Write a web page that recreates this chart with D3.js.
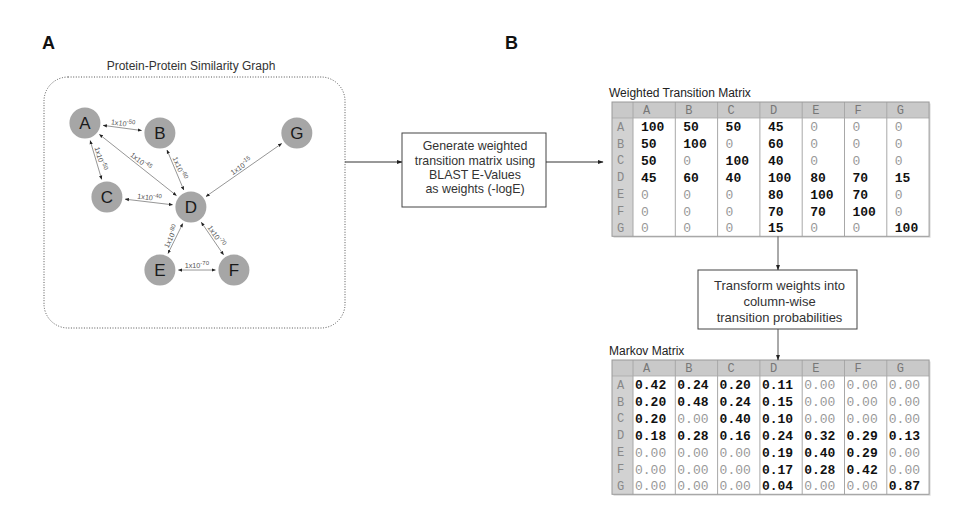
<!DOCTYPE html>
<html><head><meta charset="utf-8">
<script src="https://cdn.jsdelivr.net/npm/d3@7"></script>
<style>
body{margin:0;background:#fff;}
</style></head>
<body><svg id="c" width="975" height="517" font-family="Liberation Sans, Arial, sans-serif"></svg>
<script>
// ---------- data ----------
const nodeIds = ["A","B","C","D","E","F","G"];
// graph layout in abstract units (0..100) inside the dotted frame
const nodeGX = [13.6, 38.5, 20.9, 48.8, 38.5, 63.1, 84.0];
const nodeGY = [18.3, 22.3, 47.8, 51.8, 76.9, 76.9, 22.3];
const edgeSrc = ["A","A","A","B","G","C","D","D","E"];
const edgeTgt = ["B","C","D","D","D","D","E","F","F"];
const edgeExp = [-50,-50,-45,-60,-15,-40,-80,-70,-70];
const colLabels = ["A","B","C","D","E","F","G"];
const rowLabels = ["A","B","C","D","E","F","G"];
const weights = [
  [100,50,50,45,0,0,0],
  [50,100,0,60,0,0,0],
  [50,0,100,40,0,0,0],
  [45,60,40,100,80,70,15],
  [0,0,0,80,100,70,0],
  [0,0,0,70,70,100,0],
  [0,0,0,15,0,0,100]
];
const markov = [
  ["0.42","0.24","0.20","0.11","0.00","0.00","0.00"],
  ["0.20","0.48","0.24","0.15","0.00","0.00","0.00"],
  ["0.20","0.00","0.40","0.10","0.00","0.00","0.00"],
  ["0.18","0.28","0.16","0.24","0.32","0.29","0.13"],
  ["0.00","0.00","0.00","0.19","0.40","0.29","0.00"],
  ["0.00","0.00","0.00","0.17","0.28","0.42","0.00"],
  ["0.00","0.00","0.00","0.04","0.00","0.00","0.87"]
];
const boxText1 = ["Generate weighted","transition matrix using","BLAST E-Values","as weights (-logE)"];
const boxText2 = ["Transform weights into","column-wise","transition probabilities"];

// ---------- drawing ----------
const MONO = "Liberation Mono, Courier New, monospace";
const svg = d3.select("#c");
const defs = svg.append("defs");
defs.append("marker").attr("id","ah").attr("viewBox","0 0 10 10").attr("refX",9).attr("refY",5)
  .attr("markerWidth",6).attr("markerHeight",6).attr("orient","auto-start-reverse")
  .append("path").attr("d","M0,1.5L10,5L0,8.5z").attr("fill","#222");
defs.append("marker").attr("id","sm").attr("viewBox","0 0 10 10").attr("refX",9).attr("refY",5)
  .attr("markerWidth",4.5).attr("markerHeight",4.5).attr("orient","auto-start-reverse")
  .append("path").attr("d","M0,1L10,5L0,9z").attr("fill","#222");

// panel letters
svg.append("text").attr("x",42).attr("y",49)
  .attr("font-weight","bold").attr("font-size",18).attr("fill","#111").text("A");
svg.append("text").attr("x",505).attr("y",49)
  .attr("font-weight","bold").attr("font-size",18).attr("fill","#111").text("B");

// ----- Panel A: graph -----
svg.append("text").attr("x",191).attr("y",70).attr("text-anchor","middle")
  .attr("font-size",12).attr("fill","#333").text("Protein-Protein Similarity Graph");
svg.append("rect").attr("x",44).attr("y",77).attr("width",301).attr("height",251).attr("rx",24)
  .attr("fill","none").attr("stroke","#555").attr("stroke-width",1).attr("stroke-dasharray","1,1.6");

const gx = d3.scaleLinear().domain([0,100]).range([44,345]);
const gy = d3.scaleLinear().domain([0,100]).range([77,328]);
const R = 15.5;
const pos = {};
nodeIds.forEach((id,i)=>{pos[id]={x:gx(nodeGX[i]),y:gy(nodeGY[i])};});

const edges = edgeSrc.map((s,i)=>({s,t:edgeTgt[i],e:edgeExp[i]}));
const eg = svg.append("g");
edges.forEach(d=>{
  const a=pos[d.s], b=pos[d.t];
  const dx=b.x-a.x, dy=b.y-a.y, L=Math.hypot(dx,dy), ux=dx/L, uy=dy/L;
  const gap=R+3;
  const x1=a.x+ux*gap, y1=a.y+uy*gap, x2=b.x-ux*gap, y2=b.y-uy*gap;
  eg.append("line").attr("x1",x1).attr("y1",y1).attr("x2",x2).attr("y2",y2)
    .attr("stroke","#8a8a8a").attr("stroke-width",0.9)
    .attr("marker-start","url(#sm)").attr("marker-end","url(#sm)");
  let ang=Math.atan2(dy,dx)*180/Math.PI;
  if(ang>90) ang-=180; if(ang<=-90) ang+=180;
  const mx=(a.x+b.x)/2, my=(a.y+b.y)/2;
  const t=eg.append("text").attr("transform",`translate(${mx},${my}) rotate(${ang}) translate(0,-2)`)
    .attr("text-anchor","middle").attr("font-size",7.2).attr("fill","#555");
  t.append("tspan").text("1x10");
  t.append("tspan").attr("dy",-3.2).attr("font-size",6).text(d.e);
});

const ng = svg.append("g").selectAll("g").data(nodeIds).join("g")
  .attr("transform",d=>`translate(${pos[d].x},${pos[d].y})`);
ng.append("circle").attr("r",R).attr("fill","#a6a6a6");
ng.append("text").attr("text-anchor","middle").attr("dy","0.36em").attr("font-size",17)
  .attr("fill","#1a1a1a").text(d=>d);

// ----- middle box -----
const b1 = {x:402,y:133,w:144,h:74};
svg.append("line").attr("x1",345).attr("y1",162).attr("x2",b1.x).attr("y2",162)
  .attr("stroke","#333").attr("stroke-width",1).attr("marker-end","url(#ah)");
svg.append("rect").attr("x",b1.x).attr("y",b1.y).attr("width",b1.w).attr("height",b1.h)
  .attr("fill","#fff").attr("stroke","#444").attr("stroke-width",1);
boxText1.forEach((s,i)=>svg.append("text").attr("x",b1.x+b1.w/2+1).attr("y",b1.y+12.8+i*14.4)
  .attr("text-anchor","middle").attr("dy","0.35em").attr("font-size",12.4).attr("fill","#333").text(s));
svg.append("line").attr("x1",b1.x+b1.w).attr("y1",162).attr("x2",603).attr("y2",162)
  .attr("stroke","#333").attr("stroke-width",1).attr("marker-end","url(#ah)");

// ----- tables -----
function drawTable(top, title, values, isZero, fmt, valOffset){
  const left=612, rhW=21, colW=42.3, hH=16, rH=16.9;
  const x = d3.scaleBand().domain(colLabels).range([left+rhW, left+rhW+colW*colLabels.length]);
  const y = d3.scaleBand().domain(rowLabels).range([top+hH, top+hH+rH*rowLabels.length]);
  const right = x.range()[1], bottom = y.range()[1];
  svg.append("text").attr("x",609).attr("y",top-5).attr("font-size",12).attr("fill","#222").text(title);
  const g=svg.append("g");
  g.append("rect").attr("x",left+1.5).attr("y",top+1.5).attr("width",right-left).attr("height",bottom-top)
    .attr("fill","#ddd");
  g.append("rect").attr("x",left).attr("y",top).attr("width",right-left).attr("height",bottom-top)
    .attr("fill","#fff");
  g.append("rect").attr("x",left).attr("y",top).attr("width",right-left).attr("height",hH).attr("fill","#c9c9c9");
  g.append("rect").attr("x",left).attr("y",top+hH).attr("width",rhW).attr("height",bottom-top-hH).attr("fill","#d2d2d2");
  colLabels.forEach(c=>{
    g.append("line").attr("x1",x(c)).attr("x2",x(c)).attr("y1",top).attr("y2",bottom)
      .attr("stroke","#a8a8a8").attr("stroke-width",1);
  });
  g.append("line").attr("x1",left).attr("x2",right).attr("y1",top+hH).attr("y2",top+hH)
    .attr("stroke","#aaa").attr("stroke-width",0.8);
  g.append("rect").attr("x",left).attr("y",top).attr("width",right-left).attr("height",bottom-top)
    .attr("fill","none").attr("stroke","#999").attr("stroke-width",1);
  g.selectAll(".ch").data(colLabels).join("text").attr("x",c=>x(c)+10).attr("y",top+hH/2)
    .attr("dy","0.35em").attr("font-family",MONO).attr("font-size",12)
    .attr("fill","#777").text(c=>c);
  g.selectAll(".rh").data(rowLabels).join("text").attr("x",left+5).attr("y",r=>y(r)+rH/2)
    .attr("dy","0.35em").attr("font-family",MONO).attr("font-size",12)
    .attr("fill","#888").text(r=>r);
  values.forEach((row,ri)=>{
    row.forEach((v,ci)=>{
      const z=isZero(v);
      g.append("text").attr("x",x(colLabels[ci])+valOffset).attr("y",y(rowLabels[ri])+rH/2)
        .attr("dy","0.35em").attr("font-family",MONO).attr("font-size",13)
        .attr("font-weight",z?"normal":"bold").attr("fill",z?"#999":"#111").text(fmt(v));
    });
  });
  return {x,y,left,right,top,bottom};
}
const t1 = drawTable(102,"Weighted Transition Matrix",weights,v=>v===0,v=>String(v),8);
const t2 = drawTable(360,"Markov Matrix",markov,v=>+v===0,v=>v,2);

// arrows and transform box
const cx = 778;
const b2 = {x:698,y:270,w:159,h:59};
svg.append("line").attr("x1",cx).attr("y1",t1.bottom).attr("x2",cx).attr("y2",b2.y)
  .attr("stroke","#555").attr("stroke-width",1).attr("marker-end","url(#ah)");
svg.append("rect").attr("x",b2.x).attr("y",b2.y).attr("width",b2.w).attr("height",b2.h)
  .attr("fill","#fff").attr("stroke","#444").attr("stroke-width",1);
boxText2.forEach((s,i)=>svg.append("text").attr("x",b2.x+b2.w/2+2).attr("y",b2.y+15+i*16)
  .attr("text-anchor","middle").attr("dy","0.35em").attr("font-size",13).attr("fill","#333").text(s));
svg.append("line").attr("x1",cx).attr("y1",b2.y+b2.h).attr("x2",cx).attr("y2",t2.top)
  .attr("stroke","#555").attr("stroke-width",1).attr("marker-end","url(#ah)");
</script></body></html>
